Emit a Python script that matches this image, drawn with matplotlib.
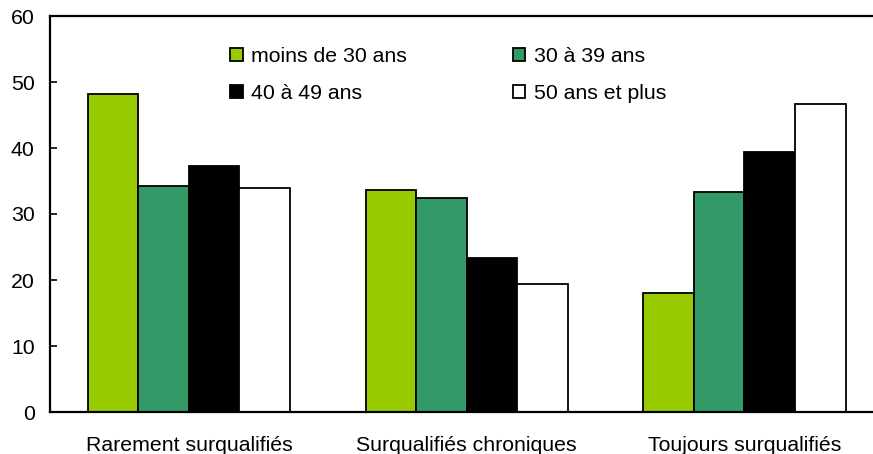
import matplotlib.pyplot as plt
import numpy as np
from matplotlib.patches import Patch

plt.rcParams['font.family'] = ['Liberation Sans', 'DejaVu Sans']

categories = ['Rarement surqualifiés', 'Surqualifiés chroniques', 'Toujours surqualifiés']
series_names = ['moins de 30 ans', '30 à 39 ans', '40 à 49 ans', '50 ans et plus']
moins_30 = [48.2, 33.6, 18.1]
de_30_39 = [34.2, 32.4, 33.3]
de_40_49 = [37.3, 23.4, 39.4]
plus_50 = [33.9, 19.4, 46.7]
couleurs = ['#99CC00', '#339966', '#000000', '#FFFFFF']

valeurs = [moins_30, de_30_39, de_40_49, plus_50]

fig = plt.figure(figsize=(8.73, 4.54), dpi=100)
ax = fig.add_axes([50/873, 1-412/454, 1-50/873, (412-16)/454])

x = np.arange(len(categories))
w = 0.182
barres = []
for i, (v, c) in enumerate(zip(valeurs, couleurs)):
    b = ax.bar(x + (i - 1.5) * w, v, w, color=c, edgecolor='black', linewidth=1.3, zorder=2)
    barres.append(b)

ax.set_xlim(-0.5, 2.463)
ax.set_ylim(0, 60)
ax.set_yticks(range(0, 61, 10))
ax.set_xticks(x)
ax.set_xticklabels(categories)
ax.tick_params(axis='y', direction='in', length=5, width=1.2, pad=11, labelsize=15.3)
ax.tick_params(axis='x', length=0, pad=17, labelsize=15.3)
ax.spines['right'].set_visible(False)
for s in ['top', 'left', 'bottom']:
    ax.spines[s].set_linewidth(1.6)

# ordre pour remplir les colonnes : col 1 = <30, 40-49 ; col 2 = 30-39, 50+
ordre = [0, 2, 1, 3]
poignees = [Patch(facecolor=couleurs[i], edgecolor='black', linewidth=1.3) for i in ordre]
etiquettes = [series_names[i] for i in ordre]
ax.legend(poignees, etiquettes, ncol=2, loc='upper left', bbox_to_anchor=(0.219, 0.922),
          frameon=False, fontsize=15.3, handlelength=0.6, handleheight=0.6,
          handletextpad=0.4, columnspacing=4.95, labelspacing=0.85, borderpad=0, borderaxespad=0)

fig.savefig('out.png', dpi=100)
